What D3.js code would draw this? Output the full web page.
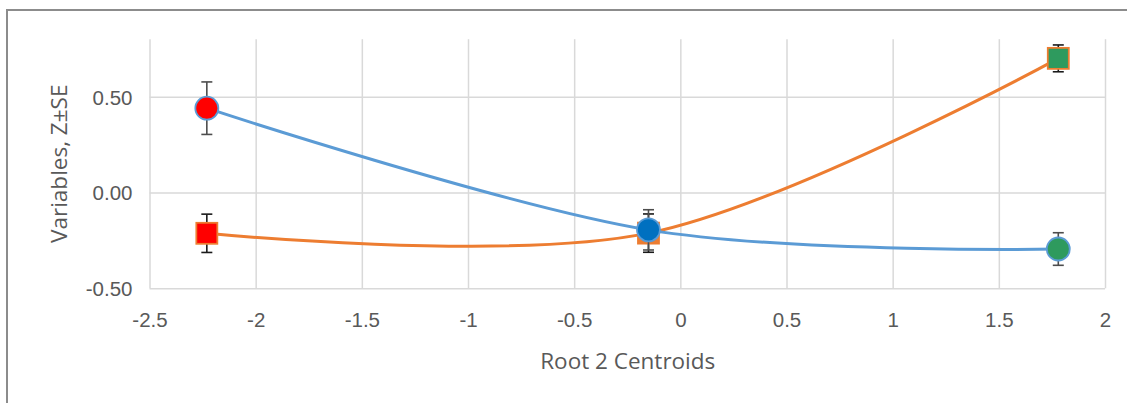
<!DOCTYPE html>
<html>
<head>
<meta charset="utf-8">
<script src="https://cdn.jsdelivr.net/npm/d3@7"></script>
<style>
  html, body { margin: 0; padding: 0; background: #fff; }
  svg { display: block; font-family: "Open Sans", "Noto Sans", sans-serif; }
</style>
</head>
<body>
<svg id="chart" width="1127" height="403"></svg>
<script>
// Group centroids on root 2 (x) and standardized variable means (y) with SE
const centroids = [-2.23, -0.15, 1.78];
const blueValues = [0.44, -0.195, -0.295];
const blueSE = [0.137, 0.105, 0.085];
const orangeValues = [-0.213, -0.212, 0.70];
const orangeSE = [0.10, 0.10, 0.07];
const pointFills = ["#FF0000", null, "#2E9A5E"];
const blueMidFill = "#0070C0";
const orangeMidFill = "#ED7D31";
const xTicks = [-2.5, -2, -1.5, -1, -0.5, 0, 0.5, 1, 1.5, 2];
const yTicks = [-0.5, 0, 0.5];
const xTitle = "Root 2 Centroids";
const yTitle = "Variables, Z±SE";

const svg = d3.select("#chart");
const W = 1127, H = 403;

// chart frame
svg.append("rect")
  .attr("x", 7).attr("y", 10)
  .attr("width", W + 20).attr("height", H + 20)
  .attr("fill", "#fff")
  .attr("stroke", "#8C8C8C")
  .attr("stroke-width", 2);

const x = d3.scaleLinear().domain([-2.5, 2]).range([149.5, 1105]);
const y = d3.scaleLinear().domain([-0.5, 0.8]).range([288.3, 39.2]);

const textColor = "#595959";
const gridColor = "#D9D9D9";

// vertical gridlines
const xAxis = svg.append("g")
  .attr("transform", `translate(0,${y(-0.5)})`)
  .call(d3.axisBottom(x).tickValues(xTicks)
    .tickSize(-(y(-0.5) - y(0.8)))
    .tickPadding(20)
    .tickFormat(d => d3.format("")(d).replace("−", "-")));
xAxis.select(".domain").remove();
xAxis.selectAll(".tick line").attr("stroke", gridColor).attr("stroke-width", 1.5);
xAxis.selectAll(".tick text")
  .attr("fill", textColor).attr("font-size", 20.5)
  .attr("y", 0).attr("dy", 0)
  .attr("transform", "translate(0,39)");

// horizontal gridlines
const yAxis = svg.append("g")
  .attr("transform", `translate(${x(-2.5)},0)`)
  .call(d3.axisLeft(y).tickValues(yTicks)
    .tickSize(-(x(2) - x(-2.5)))
    .tickFormat(d3.format(".2f")));
yAxis.select(".domain").remove();
yAxis.selectAll(".tick line").attr("stroke", gridColor).attr("stroke-width", 1.5);
yAxis.selectAll(".tick text")
  .attr("fill", textColor).attr("font-size", 20.5)
  .attr("x", -17).attr("dy", "0.36em")
  .text(d => d3.format(".2f")(d).replace("−", "-"));

// axis titles
svg.append("text")
  .attr("x", (x(-2.5) + x(2)) / 2 + 0.5).attr("y", 368.5)
  .attr("text-anchor", "middle")
  .attr("fill", textColor).attr("font-size", 22.5)
  .text(xTitle);

svg.append("text")
  .attr("transform", `translate(66.5,${(y(0.8) + y(-0.5)) / 2}) rotate(-90)`)
  .attr("text-anchor", "middle")
  .attr("fill", textColor).attr("font-size", 22.5)
  .text(yTitle);

const curve = d3.curveCardinal.tension(0);
const line = d3.line().x(d => x(d[0])).y(d => y(d[1])).curve(curve);

function drawSeries(values, se, color, barColor, shape, midFill) {
  const pts = centroids.map((c, i) => [c, values[i], se[i], i]);
  const g = svg.append("g");
  g.append("path")
    .datum(pts)
    .attr("d", line)
    .attr("fill", "none")
    .attr("stroke", color)
    .attr("stroke-width", 3)
    .attr("stroke-linecap", "round");

  // error bars
  const eb = g.selectAll(".eb").data(pts).join("g");
  eb.append("line")
    .attr("x1", d => x(d[0])).attr("x2", d => x(d[0]))
    .attr("y1", d => y(d[1] + d[2])).attr("y2", d => y(d[1] - d[2]))
    .attr("stroke", barColor).attr("stroke-width", 1.6);
  [1, -1].forEach(s => {
    eb.append("line")
      .attr("x1", d => x(d[0]) - 5.5).attr("x2", d => x(d[0]) + 5.5)
      .attr("y1", d => y(d[1] + s * d[2])).attr("y2", d => y(d[1] + s * d[2]))
      .attr("stroke", barColor).attr("stroke-width", 1.6);
  });

  // markers
  const fillOf = d => pointFills[d[3]] || midFill;
  if (shape === "circle") {
    g.selectAll(".m").data(pts).join("circle")
      .attr("cx", d => x(d[0])).attr("cy", d => y(d[1]))
      .attr("r", 11.5)
      .attr("fill", fillOf)
      .attr("stroke", color).attr("stroke-width", 1.8);
  } else {
    const s = 21;
    g.selectAll(".m").data(pts).join("rect")
      .attr("x", d => x(d[0]) - s / 2).attr("y", d => y(d[1]) - s / 2)
      .attr("width", s).attr("height", s)
      .attr("fill", fillOf)
      .attr("stroke", color).attr("stroke-width", 1.8);
  }
}

drawSeries(orangeValues, orangeSE, "#ED7D31", "#1A1A1A", "square", orangeMidFill);
drawSeries(blueValues, blueSE, "#5B9BD5", "#4D4D4D", "circle", blueMidFill);
</script>
</body>
</html>
